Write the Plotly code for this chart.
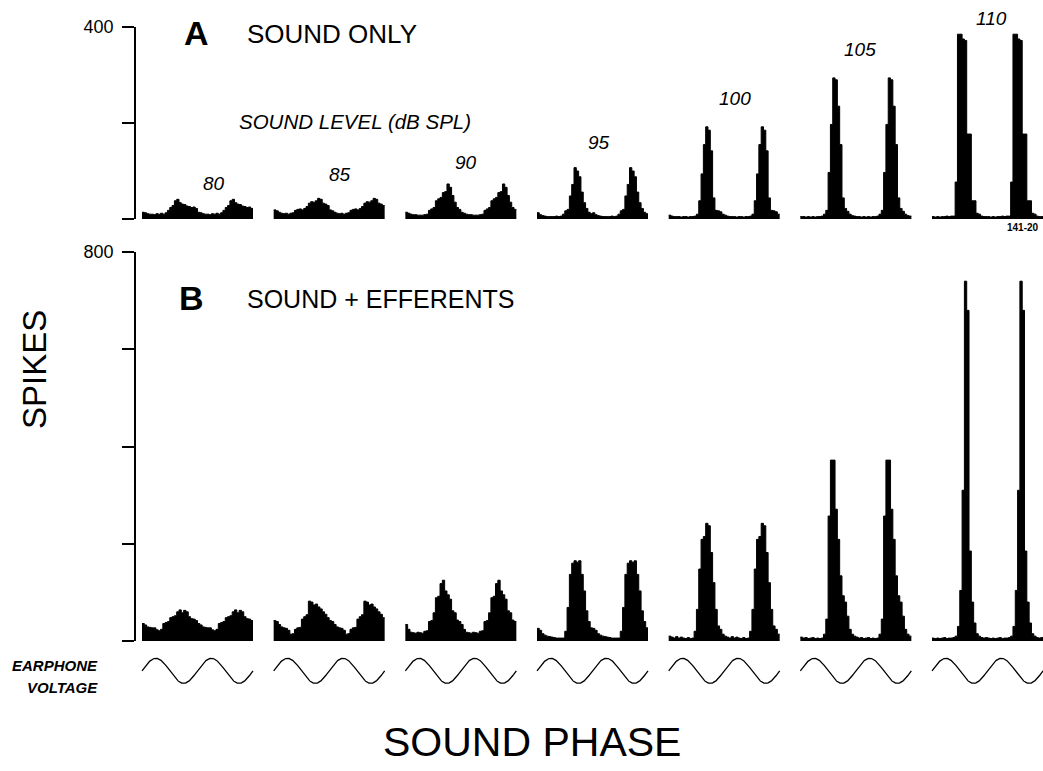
import numpy as np
import plotly.graph_objects as go

# ---------------- data (spikes per bin, one stimulus cycle, 24 bins) ----------------
LEVELS = [80, 85, 90, 95, 100, 105, 110]          # sound level, dB SPL
BINS_PER_CYCLE = 24
N_CYCLES = 2                                      # period histograms drawn over two cycles

# Panel A: sound only
A_80 = [14, 13, 11, 10, 10, 9, 11, 10, 12, 10, 13, 18, 24, 28, 38, 41, 34, 31, 30, 27, 26, 24, 25, 22]
A_85 = [19, 17, 14, 12, 11, 12, 10, 12, 13, 18, 20, 21, 19, 22, 26, 33, 36, 35, 38, 43, 41, 33, 31, 28]
A_90 = [14, 12, 10, 9, 9, 8, 8, 8, 9, 10, 18, 21, 24, 38, 42, 45, 55, 57, 73, 66, 49, 35, 24, 20]
A_95 = [13, 9, 7, 6, 5, 5, 5, 5, 6, 5, 6, 10, 17, 20, 48, 72, 107, 100, 88, 56, 34, 22, 14, 11]
A_100 = [8, 6, 5, 5, 5, 4, 5, 5, 4, 5, 5, 6, 10, 38, 94, 155, 192, 185, 142, 44, 18, 17, 15, 10]
A_105 = [5, 5, 4, 5, 4, 5, 4, 5, 5, 6, 10, 18, 97, 197, 294, 290, 235, 155, 44, 22, 16, 10, 7, 6]
A_110 = [5, 4, 5, 4, 5, 5, 6, 5, 6, 6, 77, 385, 385, 375, 372, 177, 177, 38, 38, 12, 10, 6, 5, 5]

# Panel B: sound + efferent stimulation
B_80 = [36, 33, 29, 28, 27, 27, 23, 21, 24, 36, 38, 40, 48, 50, 52, 60, 64, 58, 63, 60, 50, 46, 45, 42]
B_85 = [42, 40, 34, 29, 27, 26, 22, 14, 15, 24, 27, 28, 45, 50, 54, 82, 80, 74, 76, 70, 66, 60, 55, 48]
B_90 = [34, 24, 18, 17, 16, 18, 17, 16, 20, 21, 40, 42, 58, 89, 92, 118, 125, 103, 95, 86, 62, 58, 43, 40]
B_95 = [26, 22, 15, 12, 10, 9, 8, 7, 6, 6, 6, 6, 20, 69, 137, 160, 165, 162, 165, 137, 103, 62, 40, 27]
B_100 = [10, 8, 6, 9, 6, 8, 6, 5, 7, 5, 6, 20, 65, 148, 209, 215, 242, 237, 182, 120, 65, 31, 24, 14]
B_105 = [8, 6, 7, 5, 6, 7, 5, 6, 5, 6, 14, 45, 257, 372, 372, 271, 209, 134, 93, 80, 51, 24, 14, 10]
B_110 = [6, 5, 6, 5, 6, 7, 5, 6, 6, 7, 10, 30, 104, 310, 740, 680, 185, 80, 37, 15, 10, 7, 6, 7]

SOUND_ONLY = [A_80, A_85, A_90, A_95, A_100, A_105, A_110]
SOUND_EFF = [B_80, B_85, B_90, B_95, B_100, B_105, B_110]

A_TICKS = [0, 200, 400]
A_TICKTEXT = ["", "", "400"]
B_TICKS = [0, 200, 400, 600, 800]
B_TICKTEXT = ["", "", "", "", "800"]

# ---------------- layout constants (pixels of the 1043x771 page) ----------------
W, H = 1043, 771
FONT = "Liberation Sans, Arial, Helvetica, sans-serif"


def xp(px):
    return px / W


def yp(py):
    return 1 - py / H


HIST_START_PX = 142.0
HIST_STEP_PX = 131.67
CYCLE_PX = 55.5
GROUP_STEP = HIST_STEP_PX / CYCLE_PX
X_RANGE = [-HIST_START_PX / CYCLE_PX, (W - HIST_START_PX) / CYCLE_PX]
AXIS_X_PX = 135
LABEL_POS_PX = [(214, 183), (340, 175), (466, 162), (599, 142), (735, 98), (860, 49), (991, 18)]

fig = go.Figure()

for i, lvl in enumerate(LEVELS):
    off = i * GROUP_STEP
    for vals, ya in ((SOUND_ONLY[i], "y"), (SOUND_EFF[i], "y2")):
        v = list(vals) * N_CYCLES
        edges = off + np.arange(len(v) + 1) / BINS_PER_CYCLE
        fig.add_trace(go.Scatter(
            x=edges, y=v + [v[-1]], mode="lines",
            line=dict(color="black", width=1, shape="hv"),
            fill="tozeroy", fillcolor="black",
            xaxis="x", yaxis=ya, hoverinfo="skip", showlegend=False))
    # earphone voltage (pure tone, two cycles)
    t = np.linspace(0, N_CYCLES, 241)
    fig.add_trace(go.Scatter(
        x=off + t, y=np.sin(2 * np.pi * t), mode="lines",
        line=dict(color="black", width=1.3),
        xaxis="x", yaxis="y3", hoverinfo="skip", showlegend=False))

yax_common = dict(
    anchor="free", position=xp(AXIS_X_PX), showline=True, linecolor="black", linewidth=1.5,
    ticks="outside", ticklen=12, tickwidth=1.5, tickcolor="black", ticklabelstandoff=5,
    showgrid=False, zeroline=False, automargin=False,
    tickfont=dict(family=FONT, size=18, color="black"))

fig.update_layout(
    width=W, height=H, margin=dict(l=0, r=0, t=0, b=0, pad=0, autoexpand=False),
    paper_bgcolor="white", plot_bgcolor="rgba(0,0,0,0)",
    xaxis=dict(domain=[0, 1], range=X_RANGE, visible=False, automargin=False),
    yaxis=dict(domain=[yp(219), yp(27)], range=[0, 400],
               tickvals=A_TICKS, ticktext=A_TICKTEXT, **yax_common),
    yaxis2=dict(domain=[yp(641), yp(252)], range=[0, 800],
                tickvals=B_TICKS, ticktext=B_TICKTEXT, **yax_common),
    yaxis3=dict(domain=[yp(690.8), yp(650.8)], range=[-1.6, 1.6], visible=False,
                automargin=False),
)


def ann(text, x, y, size, xanchor="left", yanchor="middle", angle=0):
    return dict(text=text, x=xp(x), y=yp(y), xref="paper", yref="paper",
                showarrow=False, xanchor=xanchor, yanchor=yanchor, textangle=angle,
                font=dict(family=FONT, size=size, color="black"))


anns = [
    ann("<b>A</b>", 182, 33, 34),
    ann("SOUND ONLY", 245, 34, 26),
    ann("<i>SOUND LEVEL (dB SPL)</i>", 237, 121, 20.5),
    ann("<b>B</b>", 177, 298, 34),
    ann("SOUND + EFFERENTS", 245, 299, 25),
    ann("SPIKES", 34, 370, 33, xanchor="center", angle=-90),
    ann("<b><i>EARPHONE</i></b>", 100, 665, 15, xanchor="right"),
    ann("<b><i>VOLTAGE</i></b>", 100, 687, 15, xanchor="right"),
    ann("SOUND PHASE", 532, 742, 41, xanchor="center"),
    ann("<b>141-20</b>", 1041, 227, 10, xanchor="right"),
]
for lvl, (lx, ly) in zip(LEVELS, LABEL_POS_PX):
    anns.append(ann(f"<i>{lvl}</i>", lx, ly, 19, xanchor="center"))
fig.update_layout(annotations=anns)

fig.write_html("out.html")
